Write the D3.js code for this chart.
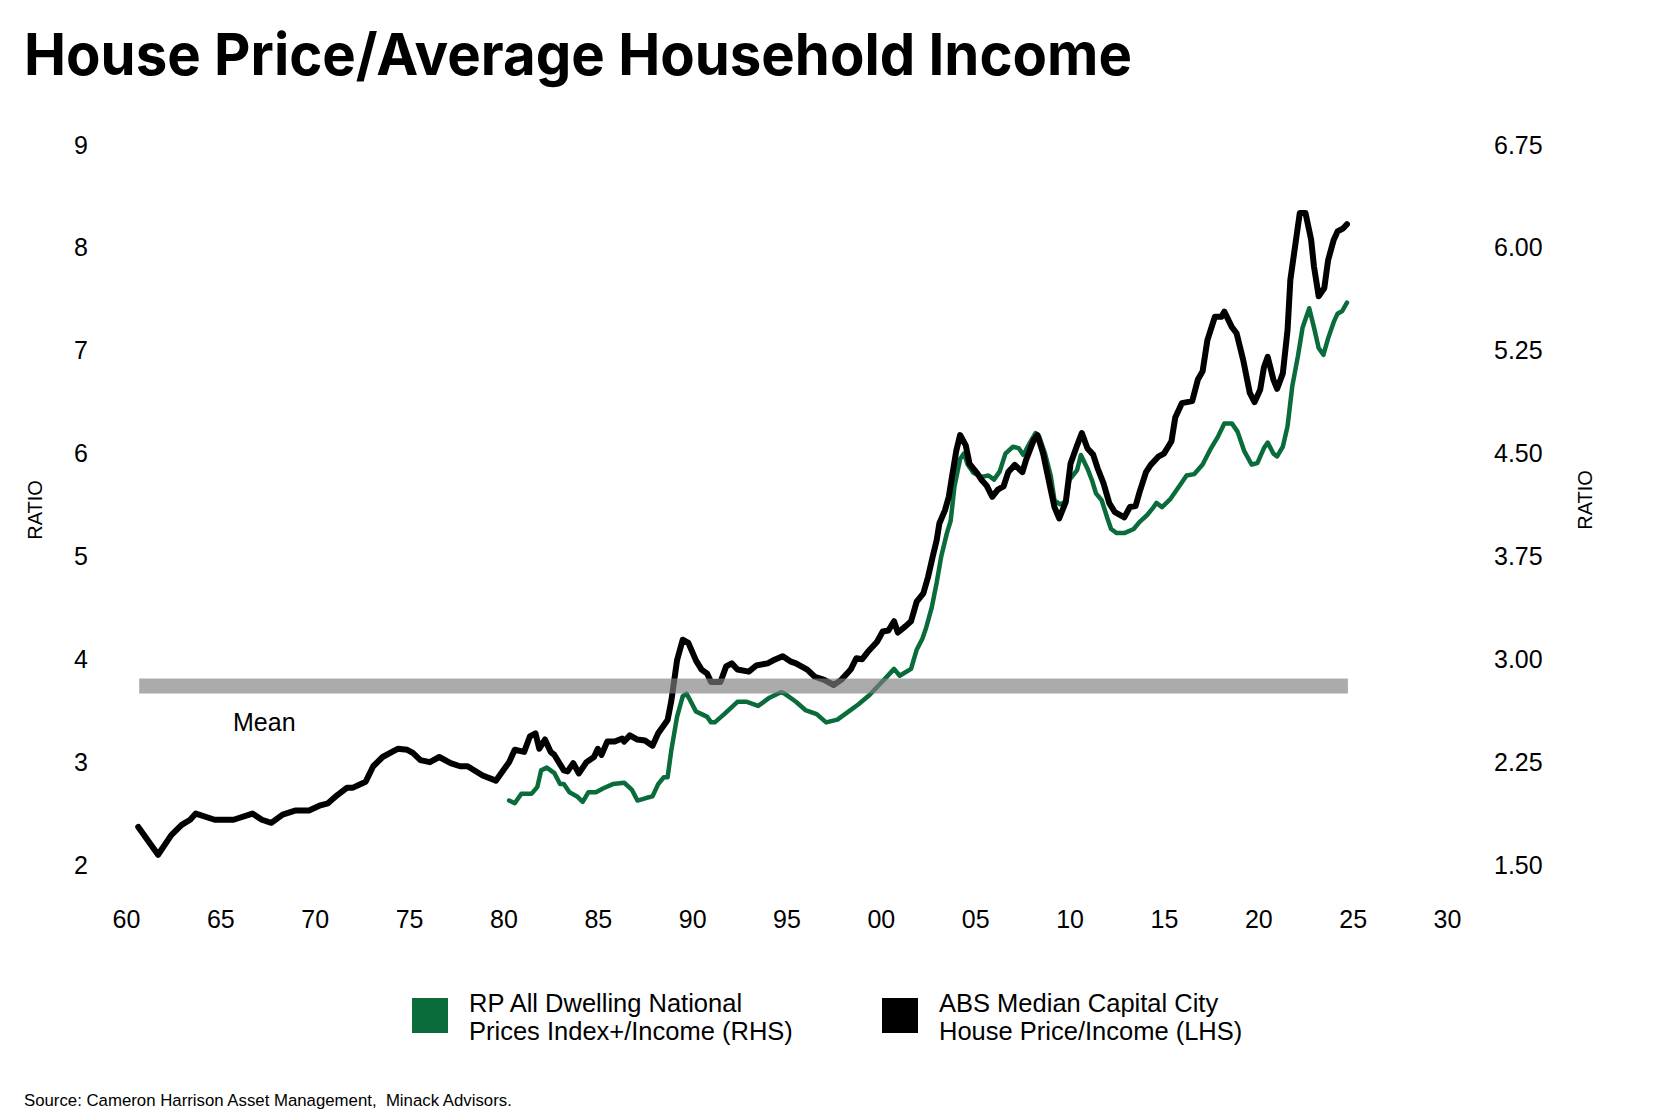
<!DOCTYPE html>
<html>
<head>
<meta charset="utf-8">
<script src="https://cdn.jsdelivr.net/npm/d3@7"></script>
<style>
  body { margin: 0; background: #fff; }
  text { font-family: "Liberation Sans", Arial, sans-serif; fill: #000; }
</style>
</head>
<body>
<div id="visual-container"></div>
<script>
// ABS median capital city house price / income (LHS)
const blackYears = [1960.65,1961.7,1962.4,1962.95,1963.4,1963.7,1964.7,1965.7,1966.7,1967.2,1967.7,1968.3,1969.0,1969.7,1970.3,1970.7,1971.2,1971.7,1972.0,1972.7,1973.1,1973.6,1974.0,1974.4,1974.9,1975.2,1975.6,1976.1,1976.6,1977.2,1977.7,1978.1,1978.9,1979.6,1980.3,1980.6,1981.1,1981.4,1981.7,1981.9,1982.2,1982.5,1982.7,1983.2,1983.4,1983.7,1984.0,1984.4,1984.8,1985.0,1985.2,1985.5,1985.9,1986.3,1986.4,1986.7,1987.1,1987.5,1987.9,1988.2,1988.7,1988.9,1989.2,1989.5,1989.8,1990.2,1990.5,1990.8,1991.0,1991.5,1991.8,1992.1,1992.4,1993.0,1993.4,1994.0,1994.3,1994.8,1995.2,1995.5,1996.1,1996.5,1997.0,1997.5,1997.9,1998.4,1998.7,1999.0,1999.3,1999.8,2000.1,2000.4,2000.7,2000.9,2001.3,2001.6,2001.9,2002.25,2002.5,2002.75,2002.96,2003.1,2003.4,2003.6,2003.8,2004.0,2004.2,2004.5,2004.7,2005.1,2005.35,2005.6,2005.9,2006.2,2006.5,2006.75,2007.1,2007.5,2007.7,2008.1,2008.3,2008.6,2009.0,2009.2,2009.45,2009.8,2010.05,2010.4,2010.65,2010.95,2011.25,2011.5,2011.8,2012.1,2012.4,2012.9,2013.2,2013.5,2013.7,2014.05,2014.3,2014.7,2015.0,2015.4,2015.6,2015.95,2016.5,2016.8,2017.05,2017.3,2017.7,2018.05,2018.2,2018.6,2018.85,2019.2,2019.55,2019.8,2020.1,2020.3,2020.5,2020.8,2021.0,2021.3,2021.55,2021.7,2022.0,2022.2,2022.5,2022.8,2022.95,2023.2,2023.5,2023.7,2024.0,2024.2,2024.5,2024.7]
const blackRatio = [2.37,2.10,2.29,2.39,2.44,2.50,2.44,2.44,2.50,2.44,2.41,2.49,2.53,2.53,2.58,2.60,2.68,2.75,2.75,2.81,2.96,3.05,3.09,3.13,3.12,3.09,3.02,3.00,3.05,2.99,2.96,2.96,2.87,2.82,3.00,3.12,3.10,3.25,3.28,3.13,3.22,3.10,3.07,2.92,2.91,2.99,2.89,3.00,3.05,3.13,3.07,3.20,3.20,3.23,3.20,3.26,3.22,3.21,3.16,3.28,3.41,3.60,3.99,4.19,4.16,3.99,3.90,3.86,3.78,3.78,3.93,3.96,3.90,3.88,3.94,3.96,3.99,4.03,3.98,3.96,3.90,3.83,3.80,3.75,3.80,3.90,4.01,4.00,4.07,4.17,4.27,4.28,4.37,4.26,4.32,4.37,4.56,4.64,4.80,5.00,5.16,5.32,5.45,5.58,5.81,6.03,6.18,6.08,5.90,5.81,5.74,5.69,5.58,5.65,5.68,5.82,5.89,5.82,5.94,6.13,6.18,6.00,5.65,5.48,5.37,5.53,5.90,6.08,6.20,6.05,5.99,5.85,5.71,5.52,5.43,5.38,5.48,5.49,5.62,5.82,5.89,5.97,6.00,6.12,6.35,6.49,6.51,6.72,6.80,7.10,7.33,7.33,7.38,7.23,7.17,6.91,6.59,6.50,6.62,6.84,6.94,6.72,6.63,6.78,7.20,7.69,8.08,8.34,8.34,8.08,7.82,7.53,7.61,7.88,8.08,8.16,8.19,8.23]

// RP all dwelling national prices index+ / income (RHS)
const greenYears = [1980.3,1980.6,1980.95,1981.5,1981.8,1982.0,1982.3,1982.7,1983.0,1983.2,1983.5,1983.9,1984.2,1984.5,1984.9,1985.3,1985.8,1986.4,1986.8,1987.1,1987.6,1987.9,1988.2,1988.5,1988.7,1988.9,1989.2,1989.5,1989.7,1989.9,1990.2,1990.5,1990.8,1991.0,1991.2,1991.7,1992.4,1992.9,1993.5,1994.1,1994.7,1994.9,1995.5,1996.0,1996.6,1997.1,1997.7,1998.3,1998.8,1999.4,1999.95,2000.3,2000.7,2001.0,2001.6,2001.9,2002.2,2002.4,2002.7,2002.96,2003.2,2003.5,2003.7,2003.9,2004.2,2004.4,2004.6,2004.9,2005.35,2005.7,2006.0,2006.3,2006.6,2007.0,2007.3,2007.55,2007.9,2008.2,2008.4,2008.7,2009.0,2009.2,2009.5,2009.8,2010.0,2010.4,2010.6,2010.95,2011.2,2011.4,2011.7,2012.0,2012.2,2012.5,2012.9,2013.4,2013.7,2014.1,2014.4,2014.6,2014.9,2015.35,2015.8,2016.2,2016.6,2017.05,2017.5,2017.85,2018.2,2018.6,2018.9,2019.25,2019.65,2019.95,2020.3,2020.5,2020.8,2021.0,2021.3,2021.55,2021.8,2022.1,2022.35,2022.7,2022.95,2023.2,2023.45,2023.7,2024.0,2024.2,2024.45,2024.7]
const greenRatio = [1.97,1.95,2.02,2.02,2.07,2.19,2.21,2.17,2.09,2.09,2.03,2.00,1.96,2.03,2.03,2.06,2.09,2.10,2.05,1.97,1.99,2.00,2.09,2.14,2.14,2.34,2.58,2.73,2.75,2.70,2.62,2.60,2.58,2.54,2.54,2.60,2.69,2.69,2.66,2.72,2.76,2.75,2.69,2.63,2.60,2.54,2.56,2.62,2.67,2.74,2.82,2.87,2.93,2.88,2.93,3.07,3.15,3.23,3.38,3.56,3.75,3.92,4.01,4.26,4.46,4.50,4.42,4.36,4.33,4.34,4.31,4.37,4.50,4.55,4.54,4.49,4.58,4.65,4.62,4.50,4.34,4.16,4.13,4.15,4.31,4.38,4.49,4.39,4.30,4.21,4.16,4.03,3.95,3.92,3.92,3.95,4.00,4.05,4.10,4.14,4.11,4.17,4.26,4.34,4.35,4.42,4.54,4.62,4.72,4.72,4.66,4.52,4.42,4.43,4.54,4.58,4.50,4.48,4.55,4.70,4.99,5.21,5.42,5.56,5.42,5.27,5.22,5.34,5.46,5.52,5.54,5.60]

const meanRatio = 3.74
const meanSpan = [1960.7, 2024.75]

const xTickYears = [1960,1965,1970,1975,1980,1985,1990,1995,2000,2005,2010,2015,2020,2025,2030]
const xTickLabels = ['60','65','70','75','80','85','90','95','00','05','10','15','20','25','30']
const leftTicks = [2,3,4,5,6,7,8,9]
const rightTicks = [1.50,2.25,3.00,3.75,4.50,5.25,6.00,6.75]

const legendLabels = [
    ['RP All Dwelling National', 'Prices Index+/Income (RHS)'],
    ['ABS Median Capital City', 'House Price/Income (LHS)']
]

const width = 1680
const height = 1120
const green = '#0a6b3b'

const container = document.getElementById('visual-container')
let svg = d3.select(container)
            .append('svg')
            .attr('width', width)
            .attr('height', height)

const xScale = d3.scaleLinear().domain([1960, 2030]).range([126, 1447])
const yLeft = d3.scaleLinear().domain([2, 9]).range([865, 145])
const yRight = d3.scaleLinear().domain([1.5, 6.75]).range([865, 145])

// title
svg.append('text')
    .attr('x', 24)
    .attr('y', 75)
    .attr('textLength', 1108)
    .attr('lengthAdjust', 'spacingAndGlyphs')
    .style('font-family', 'Inter, "Liberation Sans", sans-serif')
    .style('font-weight', 700)
    .style('font-size', '58px')
    .text('House Price/Average Household Income')

// axes, no lines or ticks
const leftAxis = svg.append('g')
    .attr('transform', 'translate(88,0)')
    .call(d3.axisLeft(yLeft).tickValues(leftTicks).tickSize(0).tickPadding(0).tickFormat(d3.format('d')))
const rightAxis = svg.append('g')
    .attr('transform', 'translate(1494,0)')
    .call(d3.axisRight(yRight).tickValues(rightTicks).tickSize(0).tickPadding(0).tickFormat(d3.format('.2f')))
const bottomAxis = svg.append('g')
    .attr('transform', 'translate(0,900)')
    .call(d3.axisBottom(xScale).tickValues(xTickYears).tickSize(0).tickPadding(10)
          .tickFormat((d, i) => xTickLabels[i]))

svg.selectAll('.domain').remove()
svg.selectAll('.tick text')
    .style('font-family', '"Liberation Sans", Arial, sans-serif')
    .style('font-size', '25px')
    .attr('fill', '#000')

// axis titles
svg.append('text')
    .attr('transform', 'translate(42,510) rotate(-90)')
    .attr('text-anchor', 'middle')
    .style('font-size', '20px')
    .text('RATIO')
svg.append('text')
    .attr('transform', 'translate(1592,500) rotate(-90)')
    .attr('text-anchor', 'middle')
    .style('font-size', '20px')
    .text('RATIO')

// lines
const blackData = blackYears.map((y, i) => [y, blackRatio[i]])
const greenData = greenYears.map((y, i) => [y, greenRatio[i]])

svg.append('path')
    .datum(greenData)
    .attr('fill', 'none')
    .attr('stroke', green)
    .attr('stroke-width', 4.5)
    .attr('stroke-linejoin', 'round')
    .attr('stroke-linecap', 'round')
    .attr('d', d3.line().x(d => xScale(d[0])).y(d => yRight(d[1])))

svg.append('path')
    .datum(blackData)
    .attr('fill', 'none')
    .attr('stroke', '#000')
    .attr('stroke-width', 6)
    .attr('stroke-linejoin', 'round')
    .attr('stroke-linecap', 'round')
    .attr('d', d3.line().x(d => xScale(d[0])).y(d => yLeft(d[1])))

// mean band, drawn over the lines
svg.append('rect')
    .attr('x', xScale(meanSpan[0]))
    .attr('width', xScale(meanSpan[1]) - xScale(meanSpan[0]))
    .attr('y', yLeft(meanRatio) - 7.5)
    .attr('height', 15)
    .attr('fill', '#808080')
    .attr('fill-opacity', 0.66)

svg.append('text')
    .attr('x', 233)
    .attr('y', 731)
    .style('font-size', '25px')
    .text('Mean')

// legend
const legendX = [412, 882]
legendLabels.forEach((lines, i) => {
    svg.append('rect')
        .attr('x', legendX[i])
        .attr('y', 998)
        .attr('width', 36)
        .attr('height', 35)
        .attr('fill', i === 0 ? green : '#000')
    lines.forEach((line, j) => {
        svg.append('text')
            .attr('x', legendX[i] + 57)
            .attr('y', 1012 + j * 28)
            .style('font-size', '25.5px')
            .text(line)
    })
})

svg.append('text')
    .attr('x', 24)
    .attr('y', 1106)
    .style('font-size', '16.8px')
    .text('Source: Cameron Harrison Asset Management,\u00a0 Minack Advisors.')
</script>
</body>
</html>
